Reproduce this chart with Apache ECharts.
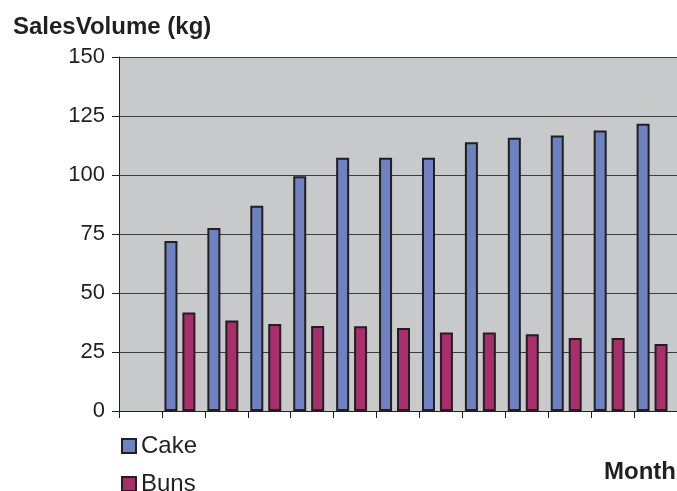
<!DOCTYPE html>
<html>
<head>
<meta charset="utf-8">
<script src="https://cdn.jsdelivr.net/npm/echarts@6/dist/echarts.min.js"></script>
<style>
html,body{margin:0;padding:0;background:#fff;}
#chart{width:677px;height:491px;}
</style>
</head>
<body>
<div id="chart"></div>
<script>
const months = ['', 'Jan', 'Feb', 'Mar', 'Apr', 'May', 'Jun', 'Jul', 'Aug', 'Sep', 'Oct', 'Nov', 'Dec'];
const cake = ['-', 72, 77.5, 87, 99.5, 107.3, 107.3, 107.3, 113.9, 115.8, 116.7, 118.9, 121.7];
const buns = ['-', 41.7, 38.4, 36.9, 36.0, 35.9, 35.2, 33.3, 33.3, 32.5, 30.9, 30.9, 28.4];
const yTicks = [0, 25, 50, 75, 100, 125, 150];

const FONT = '"Liberation Sans", Arial, sans-serif';
const INK = '#231f20';

const legendBase = {
  orient: 'vertical',
  left: 116,
  itemWidth: 14, itemHeight: 14,
  icon: 'rect',
  textStyle: { fontFamily: FONT, fontSize: 24, color: INK }
};

const chart = echarts.init(document.getElementById('chart'));
chart.setOption({
  animation: false,
  backgroundColor: '#ffffff',
  title: [
    { text: 'SalesVolume (kg)', left: 8, top: 10,
      textStyle: { fontFamily: FONT, fontSize: 24, fontWeight: 'bold', color: INK } },
    { text: 'Month', right: -4, top: 455,
      textStyle: { fontFamily: FONT, fontSize: 24, fontWeight: 'bold', color: INK } }
  ],
  legend: [
    Object.assign({}, legendBase, { data: ['Cake'], top: 429 }),
    Object.assign({}, legendBase, { data: ['Buns'], top: 467 })
  ],
  grid: {
    left: 119, top: 57, right: 0, bottom: 80,
    show: true, backgroundColor: '#c8c9cb', borderWidth: 0
  },
  xAxis: {
    type: 'category',
    data: months,
    boundaryGap: true,
    axisLine: { show: true, lineStyle: { color: INK, width: 1 } },
    axisTick: { show: true, interval: 0, length: 7, lineStyle: { color: INK } },
    axisLabel: { show: false },
    splitLine: { show: false }
  },
  yAxis: {
    type: 'value',
    min: yTicks[0], max: yTicks[yTicks.length - 1], interval: 25,
    axisLine: { show: true, lineStyle: { color: INK, width: 1 } },
    axisTick: { show: true, length: 7, lineStyle: { color: INK } },
    axisLabel: { fontFamily: FONT, fontSize: 22, color: INK, margin: 14 },
    splitLine: { show: true, lineStyle: { color: '#3c3c3c', width: 1 } }
  },
  series: [
    { name: 'Cake', type: 'bar', data: cake, barWidth: 13, barGap: '38%',
      itemStyle: { color: '#6e82c1', borderColor: INK, borderWidth: 2 } },
    { name: 'Buns', type: 'bar', data: buns, barWidth: 13, barGap: '38%',
      itemStyle: { color: '#a82f6b', borderColor: INK, borderWidth: 2 } },
    { name: 'spacer', type: 'bar', data: [], barWidth: 2, barGap: '38%' }
  ]
});
</script>
</body>
</html>
